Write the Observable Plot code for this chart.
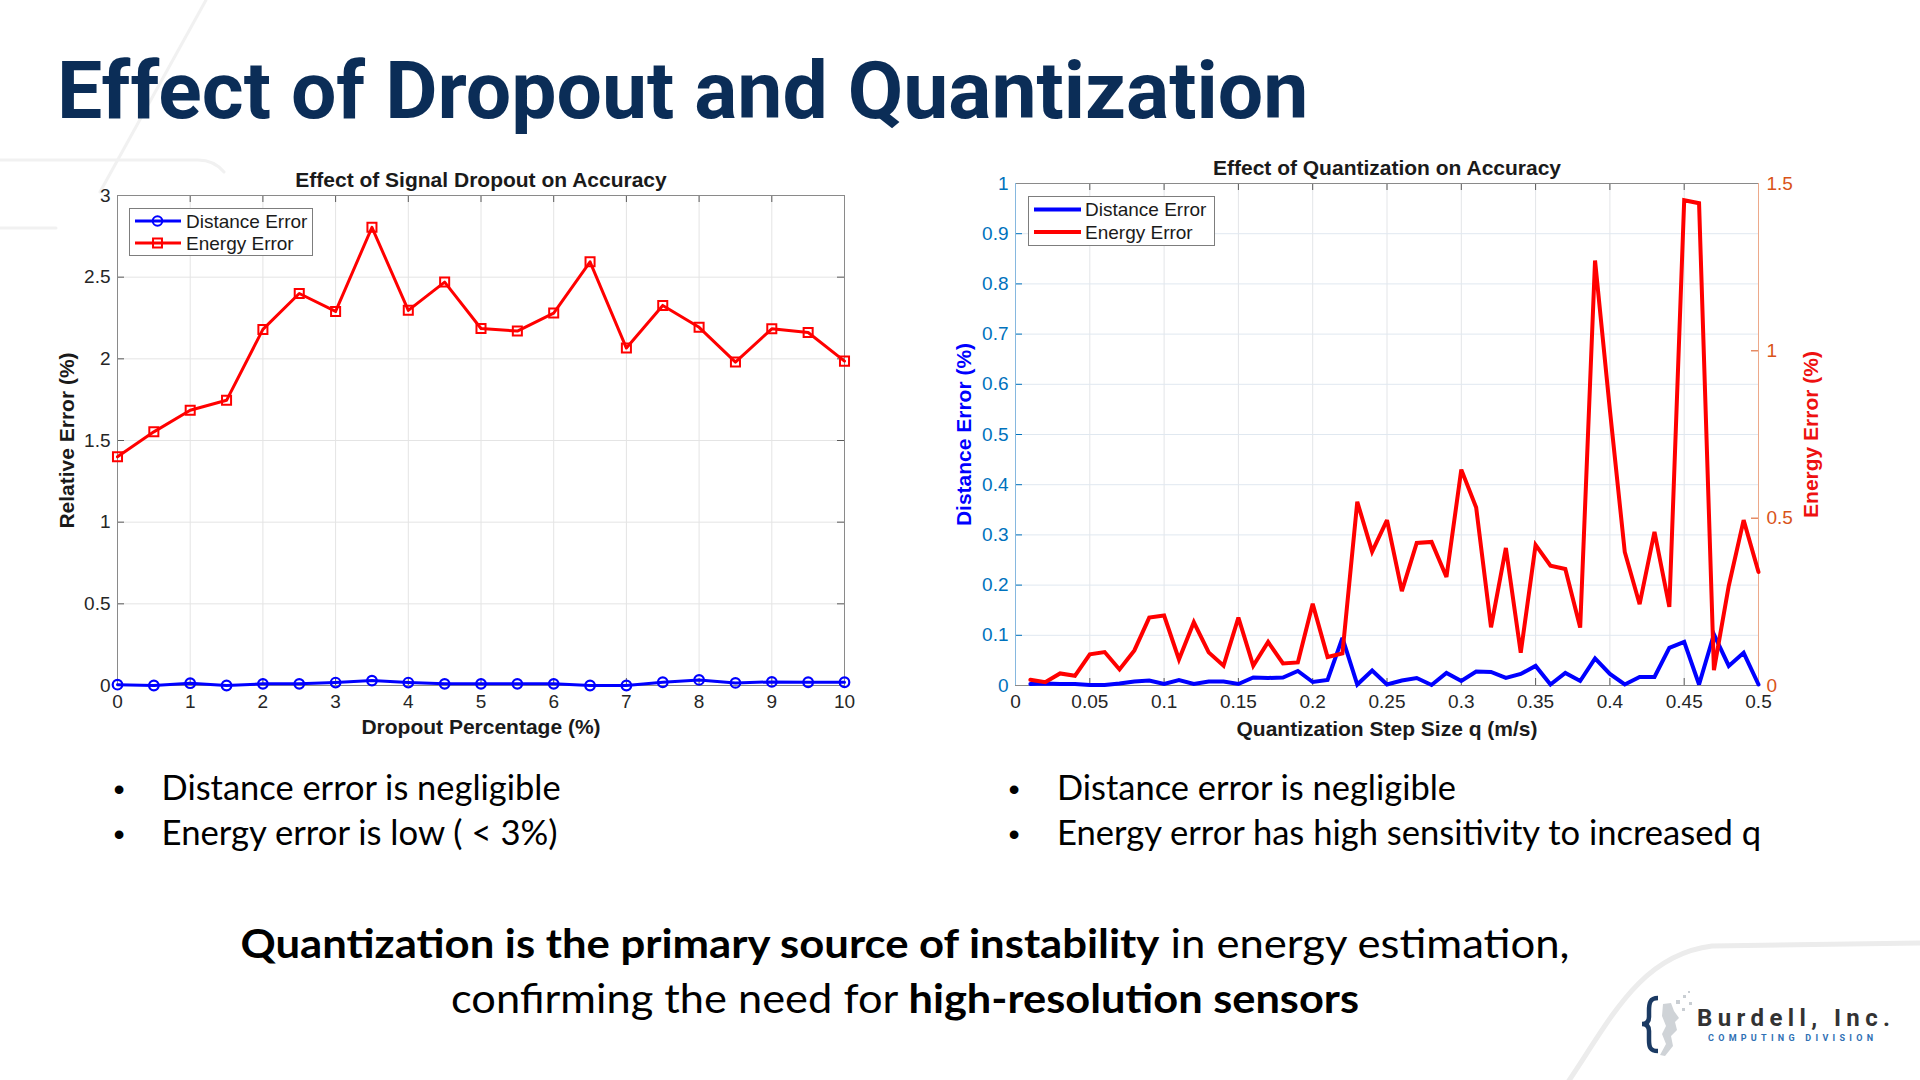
<!DOCTYPE html>
<html>
<head>
<meta charset="utf-8">
<title>Effect of Dropout and Quantization</title>
<script src="https://cdn.jsdelivr.net/npm/d3@7"></script>
<script src="https://cdn.jsdelivr.net/npm/@observablehq/plot@0.6"></script>
<style>
  html, body { margin: 0; padding: 0; background: #fff; }
  #slide { position: relative; width: 1920px; height: 1080px; overflow: hidden; background: #fff; }
  #slide > svg.backdrop { position: absolute; left: 0; top: 0; }
  .chart { position: absolute; }
  .chart svg { max-width: none; display: block; overflow: visible; }
  svg.legend { position: absolute; overflow: visible; }
</style>
</head>
<body>
<div id="slide"></div>
<script>
// ---------- Signal dropout sweep ----------
const dropoutPct = [0, 0.5, 1, 1.5, 2, 2.5, 3, 3.5, 4, 4.5, 5, 5.5, 6, 6.5, 7, 7.5, 8, 8.5, 9, 9.5, 10];
const dropDistanceErr = [0.005, 0.0, 0.014, 0.0, 0.01, 0.01, 0.018, 0.03, 0.018, 0.01, 0.01,
                         0.01, 0.01, 0.0, 0.0, 0.02, 0.034, 0.016, 0.022, 0.02, 0.02];
const dropEnergyErr = [1.40, 1.553, 1.685, 1.746, 2.18, 2.40, 2.29, 2.805, 2.297, 2.47, 2.186,
                       2.17, 2.28, 2.594, 2.066, 2.327, 2.193, 1.98, 2.184, 2.161, 1.986];
const dropXTicks = [0, 1, 2, 3, 4, 5, 6, 7, 8, 9, 10];
const dropYTicks = [0, 0.5, 1, 1.5, 2, 2.5, 3];

// ---------- Quantization sweep ----------
const quantStep = [0.01, 0.02, 0.03, 0.04, 0.05, 0.06, 0.07, 0.08, 0.09, 0.10,
                   0.11, 0.12, 0.13, 0.14, 0.15, 0.16, 0.17, 0.18, 0.19, 0.20,
                   0.21, 0.22, 0.23, 0.24, 0.25, 0.26, 0.27, 0.28, 0.29, 0.30,
                   0.31, 0.32, 0.33, 0.34, 0.35, 0.36, 0.37, 0.38, 0.39, 0.40,
                   0.41, 0.42, 0.43, 0.44, 0.45, 0.46, 0.47, 0.48, 0.49, 0.50];
const quantDistanceErr = [0.003, 0.004, 0.003, 0.003, 0.001, 0.001, 0.004, 0.008, 0.010, 0.003,
                          0.011, 0.003, 0.008, 0.008, 0.003, 0.016, 0.015, 0.016, 0.029, 0.007,
                          0.011, 0.095, 0.002, 0.030, 0.002, 0.010, 0.015, 0.001, 0.025, 0.009,
                          0.028, 0.027, 0.015, 0.023, 0.039, 0.002, 0.025, 0.009, 0.054, 0.023,
                          0.002, 0.017, 0.017, 0.075, 0.087, 0.002, 0.102, 0.039, 0.065, 0.002];
const quantEnergyErr = [0.017, 0.010, 0.036, 0.029, 0.093, 0.100, 0.048, 0.105, 0.203, 0.209,
                        0.078, 0.189, 0.099, 0.059, 0.203, 0.059, 0.130, 0.066, 0.069, 0.244,
                        0.085, 0.096, 0.549, 0.400, 0.494, 0.282, 0.426, 0.429, 0.324, 0.645,
                        0.532, 0.174, 0.411, 0.098, 0.420, 0.358, 0.348, 0.173, 1.270, 0.823,
                        0.399, 0.243, 0.459, 0.235, 1.450, 1.441, 0.046, 0.298, 0.494, 0.339];
const quantXTicks = [0, 0.05, 0.1, 0.15, 0.2, 0.25, 0.3, 0.35, 0.4, 0.45, 0.5];
const distTicks = [0, 0.1, 0.2, 0.3, 0.4, 0.5, 0.6, 0.7, 0.8, 0.9, 1];
const energyTicks = [0, 0.5, 1, 1.5];

const seriesNames = ["Distance Error", "Energy Error"];
const seriesColors = ["#0000ff", "#ff0000"];

// ---------- Styling ----------
const FONT = "'Liberation Sans', Arial, Helvetica, sans-serif";
const INK = "#262626";
const TICK = 7;
const fmt = d => `${+(+d).toFixed(6)}`;

const slide = document.getElementById("slide");

// ---------- Slide backdrop: decorations, headings, notes, logo ----------
const back = d3.select(slide).append("svg")
  .attr("class", "backdrop").attr("width", 1920).attr("height", 1080);

const deco = back.append("g").attr("fill", "none").attr("stroke-linecap", "round");
deco.append("path").attr("d", "M206,0 L100,192").attr("stroke", "#f1f1f1").attr("stroke-width", 3);
deco.append("path").attr("d", "M0,160 L198,160 Q214,160 224,172").attr("stroke", "#f1f1f1").attr("stroke-width", 3);
deco.append("path").attr("d", "M0,228 L56,228").attr("stroke", "#f1f1f1").attr("stroke-width", 3);
deco.append("path").attr("d", "M1568,1082 C1610,1020 1640,955 1712,946 L1922,943")
  .attr("stroke", "#ececec").attr("stroke-width", 5);

back.append("text")
  .attr("x", 57).attr("y", 118)
  .attr("font-family", "Roboto, 'Liberation Sans', sans-serif")
  .attr("font-weight", 700).attr("font-size", 80.5)
  .attr("fill", "#0b2d57")
  .text("Effect of Dropout and Quantization");

// bullet notes under each chart
const NOTE_FONT = "Lato, 'Open Sans', sans-serif";
const bulletGroups = [
  {bx: 119, tx: 161.6, lines: ["Distance error is negligible", "Energy error is low ( < 3%)"], widths: [399, 396]},
  {bx: 1014, tx: 1057, lines: ["Distance error is negligible", "Energy error has high sensitivity to increased q"], widths: [399, 704]}
];
const bulletBaselines = [800, 845];
bulletGroups.forEach(g => {
  g.lines.forEach((line, i) => {
    back.append("text").attr("x", g.bx).attr("y", bulletBaselines[i])
      .attr("text-anchor", "middle").attr("font-family", "'Liberation Sans', Arial, sans-serif")
      .attr("font-size", 32).attr("fill", "#000").text("\u2022");
    back.append("text").attr("x", g.tx).attr("y", bulletBaselines[i])
      .attr("font-family", NOTE_FONT).attr("font-size", 34).attr("fill", "#000")
      .attr("textLength", g.widths[i]).attr("lengthAdjust", "spacingAndGlyphs")
      .text(line);
  });
});

// closing statement
const summary = [
  {y: 958, width: 1329, parts: [["Quantization is the primary source of instability", 700], [" in energy estimation,", 400]]},
  {y: 1013, width: 908, parts: [["confirming the need for ", 400], ["high-resolution sensors", 700]]}
];
summary.forEach(s => {
  const t = back.append("text").attr("x", 905).attr("y", s.y).attr("text-anchor", "middle")
    .attr("font-family", NOTE_FONT).attr("font-size", 41).attr("fill", "#000")
    .attr("textLength", s.width).attr("lengthAdjust", "spacingAndGlyphs");
  s.parts.forEach(([txt, w]) => t.append("tspan").attr("font-weight", w).text(txt));
});

// company mark
const logo = back.append("g");
logo.append("path")
  .attr("d", "M1658,998 C1650,998 1649,1003 1649,1011 L1649,1017 C1649,1021 1647,1024 1642,1024 C1647,1024 1649,1027 1649,1031 L1649,1040 C1649,1047 1650,1051 1658,1051")
  .attr("fill", "none").attr("stroke", "#1b3a63").attr("stroke-width", 4.5);
logo.append("path")
  .attr("d", "M1663,1004 L1671,1003 L1674,1011 L1679,1018 L1675,1022 L1677,1030 L1671,1036 L1673,1046 L1665,1056 L1660,1055 L1666,1044 L1662,1034 L1666,1026 L1662,1016 Z")
  .attr("fill", "#cfd3d7");
[[1676, 1000, 4], [1683, 995, 3], [1689, 1002, 3], [1682, 1008, 3], [1688, 991, 2]].forEach(([x, y, s]) =>
  logo.append("rect").attr("x", x).attr("y", y).attr("width", s).attr("height", s).attr("fill", "#c9ced3"));
logo.append("text").attr("x", 1697).attr("y", 1026)
  .attr("font-family", "Roboto, 'Liberation Sans', sans-serif").attr("font-weight", 700)
  .attr("font-size", 24).attr("fill", "#333")
  .attr("textLength", 193).attr("lengthAdjust", "spacing")
  .text("Burdell, Inc.");
logo.append("text").attr("x", 1708).attr("y", 1041)
  .attr("font-family", "Roboto, 'Liberation Sans', sans-serif").attr("font-weight", 700)
  .attr("font-size", 9).attr("fill", "#2f70b4")
  .attr("textLength", 165).attr("lengthAdjust", "spacing")
  .text("COMPUTING DIVISION");

// ---------- helpers ----------
function place(node, left, top, width) {
  const div = document.createElement("div");
  div.className = "chart";
  div.style.left = left + "px";
  div.style.top = top + "px";
  div.style.width = width + "px";
  div.appendChild(node);
  slide.appendChild(div);
}

function legendBox({left, top, width, height, rows, lineX, markX, textX, strokeWidth, symbols}) {
  const svg = d3.select(slide).append("svg").attr("class", "legend")
    .style("left", left + "px").style("top", top + "px")
    .attr("width", width).attr("height", height);
  svg.append("rect").attr("x", 0.5).attr("y", 0.5).attr("width", width - 1).attr("height", height - 1)
    .attr("fill", "#fff").attr("stroke", "#7d7d7d");
  seriesNames.forEach((name, i) => {
    const y = rows[i], c = seriesColors[i];
    svg.append("line").attr("x1", lineX[0]).attr("x2", lineX[1]).attr("y1", y).attr("y2", y)
      .attr("stroke", c).attr("stroke-width", strokeWidth);
    if (symbols) {
      const isCircle = symbols[i] === "circle";
      const sym = d3.symbol(isCircle ? d3.symbolCircle : d3.symbolSquare, isCircle ? 72 : 80);
      svg.append("path").attr("d", sym()).attr("transform", `translate(${markX},${y})`)
        .attr("fill", "none").attr("stroke", c).attr("stroke-width", 2);
    }
    svg.append("text").attr("x", textX).attr("y", y).attr("dy", "0.35em")
      .attr("font-family", FONT).attr("font-size", 19).attr("fill", "#1a1a1a").text(name);
  });
}

// shared text options for titles and axis labels
const heading = {text: d => d, fontSize: 21, fontWeight: "bold", textAnchor: "middle", lineAnchor: "middle"};

// ---------- Chart 1: effect of signal dropout ----------
{
  const W = 850, H = 600, m = {l: 87, r: 36, t: 45, b: 65};
  const iw = W - m.l - m.r, ih = H - m.t - m.b;
  const rows = dropoutPct.map((p, i) => ({p, dist: dropDistanceErr[i], energy: dropEnergyErr[i]}));
  const boxInk = "#5a5a5a";
  const chart = Plot.plot({
    width: W, height: H,
    marginLeft: m.l, marginRight: m.r, marginTop: m.t, marginBottom: m.b,
    style: {background: "transparent", fontFamily: FONT, fontSize: "19px", color: INK, overflow: "visible"},
    x: {domain: [dropXTicks[0], dropXTicks[dropXTicks.length - 1]], label: null},
    y: {domain: [dropYTicks[0], dropYTicks[dropYTicks.length - 1]], label: null},
    marks: [
      Plot.gridX(dropXTicks, {stroke: "#e4e4e4", strokeOpacity: 1}),
      Plot.gridY(dropYTicks, {stroke: "#e4e4e4", strokeOpacity: 1}),
      Plot.ruleX(dropXTicks, {insetTop: ih - TICK, stroke: boxInk}),
      Plot.ruleX(dropXTicks, {insetBottom: ih - TICK, stroke: boxInk}),
      Plot.ruleY(dropYTicks, {insetRight: iw - TICK, stroke: boxInk}),
      Plot.ruleY(dropYTicks, {insetLeft: iw - TICK, stroke: boxInk}),
      Plot.frame({stroke: "#8a8a8a"}),
      Plot.axisX(dropXTicks, {tickSize: 0, tickPadding: 9, tickFormat: fmt, fontSize: 19, fill: INK, label: null}),
      Plot.axisY(dropYTicks, {tickSize: 0, tickPadding: 7, tickFormat: fmt, fontSize: 19, fill: INK, label: null}),
      Plot.line(rows, {x: "p", y: "dist", stroke: seriesColors[0], strokeWidth: 3}),
      Plot.dot(rows, {x: "p", y: "dist", r: 4.8, stroke: seriesColors[0], strokeWidth: 2.2, fill: "none"}),
      Plot.line(rows, {x: "p", y: "energy", stroke: seriesColors[1], strokeWidth: 3}),
      Plot.dot(rows, {x: "p", y: "energy", symbol: "square", r: 5.1, stroke: seriesColors[1], strokeWidth: 2, fill: "none"}),
      Plot.text(["Effect of Signal Dropout on Accuracy"], {...heading, frameAnchor: "top", dy: -15, fill: "#1a1a1a"}),
      Plot.text(["Dropout Percentage (%)"], {...heading, frameAnchor: "bottom", dy: 42, fill: "#1a1a1a"}),
      Plot.text(["Relative Error (%)"], {...heading, frameAnchor: "left", rotate: -90, dx: -50, fill: "#1a1a1a"})
    ]
  });
  place(chart, 30, 150, W);
  legendBox({left: 129, top: 208, width: 184, height: 48, rows: [13, 35],
    lineX: [6, 52], markX: 28.5, textX: 57, strokeWidth: 3, symbols: ["circle", "square"]});
}

// ---------- Chart 2: effect of quantization (two y axes) ----------
{
  const W = 900, H = 630, m = {l: 95, r: 62, t: 53, b: 75};
  const iw = W - m.l - m.r, ih = H - m.t - m.b;
  const distMax = distTicks[distTicks.length - 1];
  const energyMax = energyTicks[energyTicks.length - 1];
  const k = distMax / energyMax;                  // right-axis units -> left-axis units
  const rows = quantStep.map((q, i) => ({q, dist: quantDistanceErr[i], energy: quantEnergyErr[i]}));
  const leftInk = "#0072bd", rightInk = "#d95319";
  const chart = Plot.plot({
    width: W, height: H,
    marginLeft: m.l, marginRight: m.r, marginTop: m.t, marginBottom: m.b,
    style: {background: "transparent", fontFamily: FONT, fontSize: "19px", color: INK, overflow: "visible"},
    x: {domain: [quantXTicks[0], quantXTicks[quantXTicks.length - 1]], label: null},
    y: {domain: [0, distMax], label: null},
    marks: [
      Plot.gridX(quantXTicks, {stroke: "#e3e5e8", strokeOpacity: 1}),
      Plot.gridY(distTicks, {stroke: "#e0e8f0", strokeOpacity: 1}),
      Plot.ruleX(quantXTicks, {insetTop: ih - TICK, stroke: "#5a5a5a"}),
      Plot.ruleX(quantXTicks, {insetBottom: ih - TICK, stroke: "#5a5a5a"}),
      Plot.ruleY(distTicks, {insetRight: iw - TICK, stroke: leftInk}),
      Plot.ruleY(energyTicks.map(v => v * k), {insetLeft: iw - TICK, stroke: rightInk}),
      Plot.ruleY([0], {stroke: "#8a8a8a"}),
      Plot.ruleY([distMax], {stroke: "#8a8a8a"}),
      Plot.ruleX([quantXTicks[0]], {stroke: "#86b8df"}),
      Plot.ruleX([quantXTicks[quantXTicks.length - 1]], {stroke: "#eda98a"}),
      Plot.axisX(quantXTicks, {tickSize: 0, tickPadding: 9, tickFormat: fmt, fontSize: 19, fill: INK, label: null}),
      Plot.axisY(distTicks, {anchor: "left", tickSize: 0, tickPadding: 7, tickFormat: fmt, fontSize: 19, fill: leftInk, label: null}),
      Plot.axisY(energyTicks.map(v => v * k), {anchor: "right", tickSize: 0, tickPadding: 8,
        tickFormat: v => fmt(v / k), fontSize: 19, fill: rightInk, label: null}),
      Plot.line(rows, {x: "q", y: "dist", stroke: seriesColors[0], strokeWidth: 4, strokeLinejoin: "miter", strokeMiterlimit: 3}),
      Plot.line(rows, {x: "q", y: d => d.energy * k, stroke: seriesColors[1], strokeWidth: 4, strokeLinejoin: "miter", strokeMiterlimit: 3}),
      Plot.text(["Effect of Quantization on Accuracy"], {...heading, frameAnchor: "top", dy: -15, fill: "#1a1a1a"}),
      Plot.text(["Quantization Step Size q (m/s)"], {...heading, frameAnchor: "bottom", dy: 44, fill: "#1a1a1a"}),
      Plot.text(["Distance Error (%)"], {...heading, frameAnchor: "left", rotate: -90, dx: -51, fill: "#0000ff"}),
      Plot.text(["Energy Error (%)"], {...heading, frameAnchor: "right", rotate: -90, dx: 53, fill: "#ee1111"})
    ]
  });
  place(chart, 920, 130, W);
  legendBox({left: 1028, top: 196, width: 187, height: 50, rows: [13.5, 36],
    lineX: [6, 53], markX: 0, textX: 57, strokeWidth: 4, symbols: null});
}
</script>
</body>
</html>
